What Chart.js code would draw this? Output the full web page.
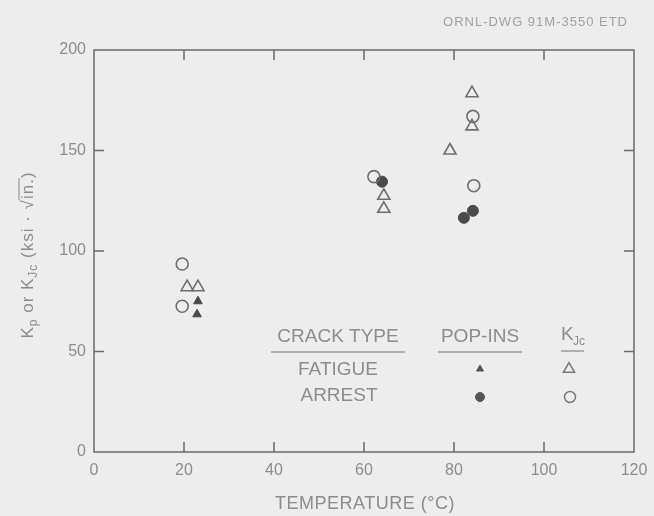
<!DOCTYPE html>
<html><head><meta charset="utf-8">
<script src="https://cdn.jsdelivr.net/npm/chart.js@4.4.0/dist/chart.umd.min.js"></script>
<style>html,body{margin:0;padding:0;background:#ececec;}#wrap{width:654px;height:516px;}</style>
</head><body><div id="wrap"><canvas id="c" width="654" height="516"></canvas></div>
<script>
// ---- data (temperature °C, K in ksi·√in.) ----
const fatigueKJcT = [20.7, 23.1, 64.4, 64.4, 79.1, 84.0, 84.0];
const fatigueKJcK = [82, 82, 127.5, 121, 150, 178.5, 162];
const arrestKJcT = [19.6, 19.6, 62.2, 84.2, 84.4];
const arrestKJcK = [93.5, 72.5, 137, 167, 132.5];
const fatiguePopInT = [23.1, 22.9];
const fatiguePopInK = [75, 68.5];
const arrestPopInT = [64.0, 82.2, 84.2];
const arrestPopInK = [134.5, 116.5, 120];
const xTicks = [0, 20, 40, 60, 80, 100, 120];
const yTicks = [0, 50, 100, 150, 200];

const toPts = (xs, ys) => xs.map((x, i) => ({x: x, y: ys[i]}));
const INK = '#6a6a6a', TXT = '#8c8c8c', BG = '#ededed';
const FONT = '"Liberation Sans", Arial, sans-serif';

const decor = {
  id: 'decor',
  beforeDraw(chart) {
    const ctx = chart.ctx;
    ctx.save(); ctx.fillStyle = BG; ctx.fillRect(0, 0, chart.width, chart.height); ctx.restore();
  },
  afterDraw(chart) {
    const ctx = chart.ctx, a = chart.chartArea, xs = chart.scales.x, ys = chart.scales.y;
    ctx.save();
    ctx.strokeStyle = INK; ctx.lineWidth = 1.5;
    ctx.strokeRect(a.left, a.top, a.right - a.left, a.bottom - a.top);
    const TL = 10;
    ctx.beginPath();
    xTicks.slice(1, -1).forEach(v => {
      const p = xs.getPixelForValue(v);
      ctx.moveTo(p, a.bottom); ctx.lineTo(p, a.bottom - TL);
      ctx.moveTo(p, a.top); ctx.lineTo(p, a.top + TL);
    });
    yTicks.slice(1, -1).forEach(v => {
      const p = ys.getPixelForValue(v);
      ctx.moveTo(a.left, p); ctx.lineTo(a.left + TL, p);
      ctx.moveTo(a.right, p); ctx.lineTo(a.right - TL, p);
    });
    ctx.stroke();

    // ORNL label
    ctx.fillStyle = '#a0a0a0';
    ctx.font = '13px ' + FONT;
    ctx.letterSpacing = '1px';
    ctx.textAlign = 'right'; ctx.textBaseline = 'middle';
    ctx.fillText('ORNL-DWG 91M-3550 ETD', 628, 22);
    ctx.letterSpacing = '0px';

    // x title
    ctx.fillStyle = TXT;
    ctx.font = '18px ' + FONT;
    ctx.textAlign = 'center';
    ctx.letterSpacing = '0.5px';
    ctx.fillText('TEMPERATURE (\u00B0C)', 365, 504);
    ctx.letterSpacing = '0px';

    // y title (rotated)
    ctx.save();
    ctx.translate(28, 255);
    ctx.rotate(-Math.PI / 2);
    const big = '17px ' + FONT, small = '12px ' + FONT;
    const parts = [['K', big, 0], ['p', small, 6], [' or K', big, 0], ['Jc', small, 6], [' (ksi \u00B7 \u221A', big, 0], ['in.', big, 0, true], [')', big, 0]];
    let total = 0;
    ctx.letterSpacing = '1px';
    parts.forEach(p => { ctx.font = p[1]; total += ctx.measureText(p[0]).width; });
    let cx = -total / 2;
    ctx.textAlign = 'left'; ctx.textBaseline = 'middle';
    parts.forEach(p => {
      ctx.font = p[1];
      const w = ctx.measureText(p[0]).width;
      ctx.fillText(p[0], cx, p[2]);
      if (p[3]) {
        ctx.strokeStyle = TXT; ctx.lineWidth = 1;
        ctx.beginPath(); ctx.moveTo(cx - 1, -9); ctx.lineTo(cx + w, -9); ctx.stroke();
      }
      cx += w;
    });
    ctx.letterSpacing = '0px';
    ctx.restore();

    // legend table
    ctx.fillStyle = TXT;
    ctx.font = '19px ' + FONT;
    ctx.textAlign = 'center'; ctx.textBaseline = 'middle';
    ctx.fillText('CRACK TYPE', 338, 337);
    ctx.fillText('POP-INS', 480, 337);
    ctx.fillText('FATIGUE', 338, 370);
    ctx.fillText('ARREST', 339, 396);
    ctx.textAlign = 'left';
    ctx.fillText('K', 561, 335);
    ctx.font = '12px ' + FONT;
    ctx.fillText('Jc', 573, 342);
    ctx.strokeStyle = '#9a9a9a'; ctx.lineWidth = 1.5;
    ctx.beginPath();
    ctx.moveTo(271, 352); ctx.lineTo(405, 352);
    ctx.moveTo(438, 352); ctx.lineTo(522, 352);
    ctx.moveTo(561, 351); ctx.lineTo(584, 351);
    ctx.stroke();
    const dp = Chart.helpers && Chart.helpers.drawPoint;
    if (dp) {
      ctx.fillStyle = '#555'; ctx.strokeStyle = '#555'; ctx.lineWidth = 1;
      dp(ctx, {pointStyle: 'triangle', radius: 4, rotation: 0, borderWidth: 1}, 480, 369);
      dp(ctx, {pointStyle: 'circle', radius: 4.5, rotation: 0, borderWidth: 1}, 480, 397);
      ctx.fillStyle = 'rgba(0,0,0,0)'; ctx.strokeStyle = '#7a7a7a'; ctx.lineWidth = 1.5;
      dp(ctx, {pointStyle: 'triangle', radius: 6.5, rotation: 0, borderWidth: 1.5}, 569, 369);
      dp(ctx, {pointStyle: 'circle', radius: 5.5, rotation: 0, borderWidth: 1.5}, 570, 397);
    }
    ctx.restore();
  }
};

const ds = (label, data, style, r, filled) => ({
  label, data, pointStyle: style, pointRadius: r, pointHoverRadius: r,
  pointBorderWidth: filled ? 1 : 1.6,
  pointBorderColor: filled ? '#4a4a4a' : '#6e6e6e',
  pointBackgroundColor: filled ? '#4a4a4a' : 'rgba(0,0,0,0)',
  showLine: false
});

new Chart(document.getElementById('c'), {
  type: 'scatter',
  data: {
    datasets: [
      ds('Fatigue K_Jc', toPts(fatigueKJcT, fatigueKJcK), 'triangle', 7, false),
      ds('Arrest K_Jc', toPts(arrestKJcT, arrestKJcK), 'circle', 6, false),
      ds('Fatigue pop-in', toPts(fatiguePopInT, fatiguePopInK), 'triangle', 5, true),
      ds('Arrest pop-in', toPts(arrestPopInT, arrestPopInK), 'circle', 5.5, true)
    ]
  },
  options: {
    responsive: false, animation: false, devicePixelRatio: 1,
    layout: {padding: {top: 50, right: 20, left: 0, bottom: 0}},
    plugins: {legend: {display: false}, tooltip: {enabled: false}},
    scales: {
      x: {
        type: 'linear', min: 0, max: 120,
        afterBuildTicks: s => { s.ticks = xTicks.map(v => ({value: v})); },
        afterFit: s => { s.height = 64; },
        grid: {display: false}, border: {display: false},
        ticks: {color: TXT, font: {family: FONT, size: 16}, padding: 1, maxRotation: 0}
      },
      y: {
        type: 'linear', min: 0, max: 200,
        afterBuildTicks: s => { s.ticks = yTicks.map(v => ({value: v})); },
        afterFit: s => { s.width = 94; },
        grid: {display: false}, border: {display: false},
        ticks: {color: TXT, font: {family: FONT, size: 16}, padding: 0}
      }
    }
  },
  plugins: [decor]
});
</script></body></html>
